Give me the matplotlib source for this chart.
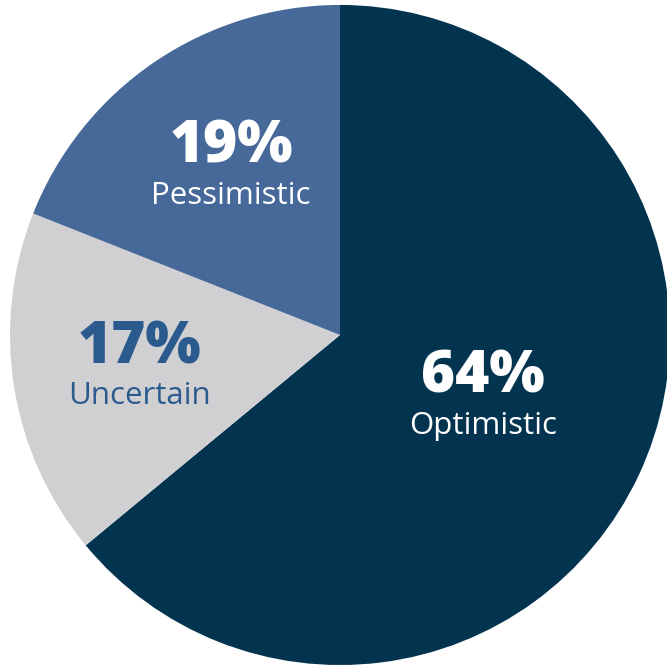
import matplotlib.pyplot as plt

labels = ['Optimistic', 'Uncertain', 'Pessimistic']
shares = [64, 17, 19]
colors = ['#03344f', '#d0d0d3', '#46699a']
text_colors = ['white', '#2b5b8e', 'white']
label_pos = [(0.433, -0.128), (-0.607, -0.038), (-0.330, 0.570)]

fig = plt.figure(figsize=(6.67, 6.66), dpi=100)
ax = fig.add_axes([0, 0, 1, 1])

ax.pie(shares, colors=colors, startangle=90, counterclock=False,
       radius=1.0, wedgeprops={'linewidth': 0})

for (x, y), lab, val, tc in zip(label_pos, labels, shares, text_colors):
    ax.text(x, y, f'{val}%', ha='center', va='center', color=tc,
            fontsize=42, fontfamily='Open Sans', fontweight='heavy')
    ax.text(x, y - 0.148, lab, ha='center', va='center', color=tc,
            fontsize=22.5, fontfamily='Open Sans')

ax.set_xlim(-1.0303, 0.9909)
ax.set_ylim(-1.003, 1.015)
ax.set_aspect('auto')
ax.axis('off')

fig.savefig('out.png', dpi=100)
